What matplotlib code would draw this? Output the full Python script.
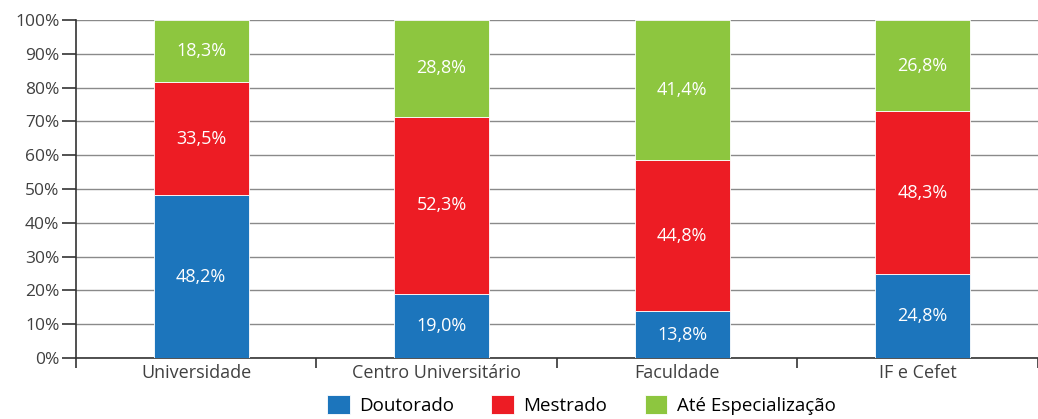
import matplotlib.pyplot as plt
import numpy as np

plt.rcParams['font.family'] = ['Open Sans', 'DejaVu Sans']

categorias = ["Universidade", "Centro Universitário", "Faculdade", "IF e Cefet"]
doutorado = [48.2, 19.0, 13.8, 24.8]
mestrado = [33.5, 52.3, 44.8, 48.3]
especializacao = [18.3, 28.8, 41.4, 26.8]
series = ["Doutorado", "Mestrado", "Até Especialização"]
cores = ["#1c75bc", "#ed1c24", "#8dc63f"]

fig = plt.figure(figsize=(10.38, 4.19), dpi=100)
ax = fig.add_axes([0.0732, 0.1456, 0.9268, 0.8064])

x = np.arange(len(categorias))
base = np.zeros(len(categorias))
for nome, vals, cor in zip(series, [doutorado, mestrado, especializacao], cores):
    vals = np.array(vals)
    ax.bar(x + 0.02, vals, 0.395, bottom=base, color=cor, label=nome,
           edgecolor="white", linewidth=0.6, zorder=3)
    for xi, b, v in zip(x, base, vals):
        ax.text(xi + 0.02, b + v / 2, f"{v:.1f}%".replace(".", ","), ha="center", va="center",
                color="white", fontsize=13, zorder=4)
    base = base + vals

ax.set_xlim(-0.5, 3.5)
ax.set_ylim(0, 100)
ax.set_yticks(np.arange(0, 101, 10))
ax.set_yticklabels([f"{v}%" for v in range(0, 101, 10)], fontsize=12.5, color="#404040")
ax.yaxis.grid(True, color="#8a8a8a", lw=1, zorder=0)
ax.tick_params(axis="y", length=10, width=1.2, color="#333333", pad=2)

# ticks between categories, labels at centers
ax.set_xticks(np.arange(-0.5, 3.6, 1.0))
ax.set_xticklabels([])
ax.set_xticks(x, minor=True)
ax.set_xticklabels(categorias, minor=True, fontsize=13, color="#404040")
ax.tick_params(axis="x", which="major", length=7, width=1.2, color="#333333")
ax.tick_params(axis="x", which="minor", length=0, pad=4)

for s in ["top", "right"]:
    ax.spines[s].set_visible(False)
for s in ["left", "bottom"]:
    ax.spines[s].set_color("#333333")
    ax.spines[s].set_linewidth(1.2)

fig.legend(loc="lower center", bbox_to_anchor=(0.56, -0.03), ncol=3, frameon=False,
           fontsize=13.5, handlelength=1.2, handleheight=1.2, columnspacing=2.0,
           handletextpad=0.5)

fig.savefig("out.png", dpi=100)
